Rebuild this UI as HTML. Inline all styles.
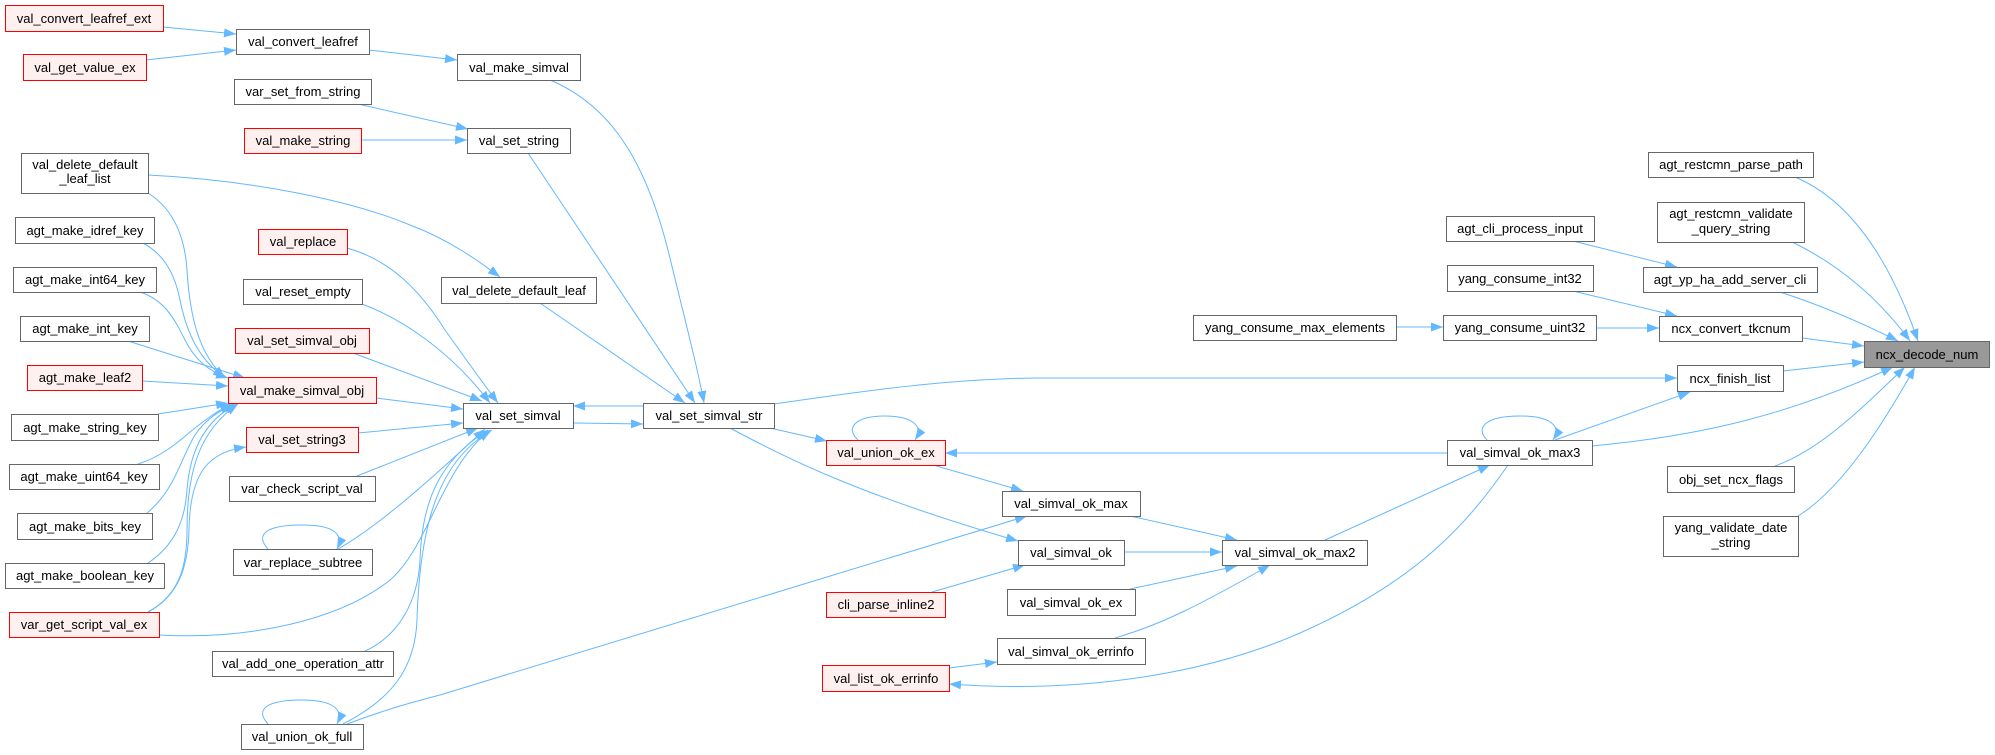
<!DOCTYPE html>
<html><head><meta charset="utf-8">
<style>
html,body{margin:0;padding:0;background:#fff;}
svg{display:block;}
text{font-family:"Liberation Sans",Arial,sans-serif;font-size:13px;fill:#000;}
.n{fill:#fff;stroke:#666;stroke-width:1;}
.r{fill:#fff0f0;stroke:#f00;stroke-width:1;}
.g{fill:#999;stroke:#666;stroke-width:1;}
.e{fill:none;stroke:#63b8ff;stroke-width:1;marker-end:url(#a);}
</style></head>
<body>
<svg width="1995" height="755" viewBox="0 0 1995 755" xmlns="http://www.w3.org/2000/svg">
<defs>
<marker id="a" viewBox="0 0 12 9" refX="12" refY="4.5" markerWidth="12" markerHeight="9" markerUnits="userSpaceOnUse" orient="auto">
<path d="M0,0 L12,4.5 L0,9 z" fill="#63b8ff"/>
</marker>
</defs>

<!-- edges -->
<path class="e" d="M163,27 L236,34"/>
<path class="e" d="M146,60 L236,50"/>
<path class="e" d="M369,50 L457,60"/>
<path class="e" d="M358,104 L468,129"/>
<path class="e" d="M361,140 L467,140"/>
<path class="e" d="M550,80 C610,105 645,160 668,250 C685,320 698,370 704,403"/>
<path class="e" d="M528,153 L695,403"/>
<path class="e" d="M540,303 L685,403"/>
<path class="e" d="M148,175 C250,180 350,200 410,225 C450,240 480,262 500,277"/>
<path class="e" d="M148,193 C175,210 185,240 187,270 C190,320 200,355 225,378"/>
<path class="e" d="M143,243 C165,255 175,275 180,300 C187,335 200,360 225,378"/>
<path class="e" d="M140,292 C165,300 175,320 185,340 C195,360 210,372 228,378"/>
<path class="e" d="M128,341 L245,378"/>
<path class="e" d="M142,381 L228,386"/>
<path class="e" d="M158,414 L228,403"/>
<path class="e" d="M138,464 C160,457 175,445 190,432 C205,420 218,410 232,404"/>
<path class="e" d="M147,513 C175,490 180,460 195,435 C205,420 220,410 235,404"/>
<path class="e" d="M148,563 C175,545 185,520 187,490 C190,450 205,420 237,404"/>
<path class="e" d="M148,612 C180,595 187,565 187,530 C187,470 200,430 238,404"/>
<path class="e" d="M148,612 C180,595 188,565 189,530 C190,470 210,452 246,447"/>
<path class="e" d="M159,635 C250,640 340,620 390,580 C430,545 440,470 490,430"/>
<path class="e" d="M347,248 C390,260 420,290 445,330 C470,365 488,390 498,403"/>
<path class="e" d="M362,304 C400,318 450,350 490,403"/>
<path class="e" d="M353,353 L482,401"/>
<path class="e" d="M376,398 L463,409"/>
<path class="e" d="M358,433 L463,423"/>
<path class="e" d="M357,476 L478,428"/>
<path class="e" d="M338,549 C380,525 430,480 485,429"/>
<path class="e" d="M268,549 C255,535 265,525 302,525 C330,525 345,532 337,549"/>
<path class="e" d="M365,651 C400,635 418,600 420,560 C422,500 440,460 488,430"/>
<path class="e" d="M343,724 C390,700 415,670 417,620 C420,520 440,460 492,430"/>
<path class="e" d="M268,724 C255,710 265,700 302,700 C330,700 345,708 337,724"/>
<path class="e" d="M347,724 C390,708 410,703 440,695 L1027,516"/>
<path class="e" d="M573,423 L643,424"/>
<path class="e" d="M643,406 L573,406"/>
<path class="e" d="M774,404 C850,393 950,378 1040,378 L1677,378"/>
<path class="e" d="M770,428 L827,441"/>
<path class="e" d="M730,428 C790,460 860,495 1018,541"/>
<path class="e" d="M858,440 C845,428 855,416 885,416 C910,416 925,425 915,440"/>
<path class="e" d="M933,465 L1023,491"/>
<path class="e" d="M1447,453 L945,453"/>
<path class="e" d="M1130,516 L1237,540"/>
<path class="e" d="M1124,552 L1222,552"/>
<path class="e" d="M932,592 L1025,565"/>
<path class="e" d="M1130,589 L1237,566"/>
<path class="e" d="M1115,638 C1160,625 1200,605 1270,565"/>
<path class="e" d="M949,668 L997,662"/>
<path class="e" d="M1508,465 C1470,520 1420,580 1300,633 C1220,668 1100,695 949,684"/>
<path class="e" d="M1325,540 L1490,465"/>
<path class="e" d="M1487,440 C1475,428 1485,416 1520,416 C1548,416 1563,425 1553,440"/>
<path class="e" d="M1555,440 L1690,392"/>
<path class="e" d="M1592,446 C1700,436 1790,415 1893,367"/>
<path class="e" d="M1775,466 C1820,450 1860,410 1905,367"/>
<path class="e" d="M1798,516 C1840,490 1880,430 1915,367"/>
<path class="e" d="M1795,177 C1850,200 1890,260 1918,341"/>
<path class="e" d="M1792,242 C1840,265 1880,300 1910,341"/>
<path class="e" d="M1780,292 C1820,305 1860,322 1898,341"/>
<path class="e" d="M1802,338 L1864,346"/>
<path class="e" d="M1783,371 L1864,362"/>
<path class="e" d="M1573,241 L1677,267"/>
<path class="e" d="M1573,291 L1677,316"/>
<path class="e" d="M1396,327 L1443,327"/>
<path class="e" d="M1596,328 L1659,328"/>

<!-- nodes -->
<rect class="r" x="5.5" y="5.5" width="158" height="26"/><text x="84" y="23" text-anchor="middle">val_convert_leafref_ext</text>
<rect class="n" x="236.5" y="29.5" width="133" height="25"/><text x="303" y="46" text-anchor="middle">val_convert_leafref</text>
<rect class="r" x="23.5" y="54.5" width="123" height="26"/><text x="85" y="72" text-anchor="middle">val_get_value_ex</text>
<rect class="n" x="457.5" y="54.5" width="123" height="26"/><text x="519" y="72" text-anchor="middle">val_make_simval</text>
<rect class="n" x="234.5" y="79.5" width="137" height="25"/><text x="303" y="96" text-anchor="middle">var_set_from_string</text>
<rect class="r" x="244.5" y="128.5" width="117" height="25"/><text x="303" y="145" text-anchor="middle">val_make_string</text>
<rect class="n" x="467.5" y="128.5" width="103" height="25"/><text x="519" y="145" text-anchor="middle">val_set_string</text>
<rect class="n" x="21.5" y="153.5" width="127" height="40"/><text x="85" y="169" text-anchor="middle">val_delete_default</text><text x="85" y="183" text-anchor="middle">_leaf_list</text>
<rect class="n" x="15.5" y="217.5" width="139" height="26"/><text x="85" y="235" text-anchor="middle">agt_make_idref_key</text>
<rect class="r" x="258.5" y="229.5" width="89" height="25"/><text x="303" y="246" text-anchor="middle">val_replace</text>
<rect class="n" x="13.5" y="267.5" width="143" height="25"/><text x="85" y="284" text-anchor="middle">agt_make_int64_key</text>
<rect class="n" x="441.5" y="277.5" width="155" height="26"/><text x="519" y="295" text-anchor="middle">val_delete_default_leaf</text>
<rect class="n" x="243.5" y="279.5" width="119" height="25"/><text x="303" y="296" text-anchor="middle">val_reset_empty</text>
<rect class="n" x="20.5" y="316.5" width="129" height="25"/><text x="85" y="333" text-anchor="middle">agt_make_int_key</text>
<rect class="r" x="235.5" y="328.5" width="134" height="25"/><text x="302" y="345" text-anchor="middle">val_set_simval_obj</text>
<rect class="r" x="27.5" y="365.5" width="115" height="25"/><text x="85" y="382" text-anchor="middle">agt_make_leaf2</text>
<rect class="r" x="228.5" y="377.5" width="148" height="26"/><text x="302" y="395" text-anchor="middle">val_make_simval_obj</text>
<rect class="n" x="463.5" y="403.5" width="110" height="25"/><text x="518" y="420" text-anchor="middle">val_set_simval</text>
<rect class="n" x="643.5" y="403.5" width="131" height="25"/><text x="709" y="420" text-anchor="middle">val_set_simval_str</text>
<rect class="n" x="11.5" y="414.5" width="147" height="26"/><text x="85" y="432" text-anchor="middle">agt_make_string_key</text>
<rect class="r" x="246.5" y="427.5" width="112" height="25"/><text x="302" y="444" text-anchor="middle">val_set_string3</text>
<rect class="r" x="826.5" y="440.5" width="119" height="25"/><text x="886" y="457" text-anchor="middle">val_union_ok_ex</text>
<rect class="n" x="9.5" y="464.5" width="150" height="25"/><text x="84" y="481" text-anchor="middle">agt_make_uint64_key</text>
<rect class="n" x="229.5" y="476.5" width="146" height="25"/><text x="302" y="493" text-anchor="middle">var_check_script_val</text>
<rect class="n" x="1002.5" y="491.5" width="138" height="25"/><text x="1071" y="508" text-anchor="middle">val_simval_ok_max</text>
<rect class="n" x="17.5" y="513.5" width="135" height="26"/><text x="85" y="531" text-anchor="middle">agt_make_bits_key</text>
<rect class="n" x="1018.5" y="540.5" width="106" height="25"/><text x="1071" y="557" text-anchor="middle">val_simval_ok</text>
<rect class="n" x="1222.5" y="540.5" width="145" height="25"/><text x="1295" y="557" text-anchor="middle">val_simval_ok_max2</text>
<rect class="n" x="233.5" y="549.5" width="139" height="26"/><text x="303" y="567" text-anchor="middle">var_replace_subtree</text>
<rect class="n" x="5.5" y="563.5" width="159" height="25"/><text x="85" y="580" text-anchor="middle">agt_make_boolean_key</text>
<rect class="n" x="1007.5" y="589.5" width="128" height="26"/><text x="1071" y="607" text-anchor="middle">val_simval_ok_ex</text>
<rect class="r" x="826.5" y="592.5" width="119" height="25"/><text x="886" y="609" text-anchor="middle">cli_parse_inline2</text>
<rect class="r" x="9.5" y="612.5" width="150" height="25"/><text x="84" y="629" text-anchor="middle">var_get_script_val_ex</text>
<rect class="n" x="997.5" y="638.5" width="148" height="26"/><text x="1071" y="656" text-anchor="middle">val_simval_ok_errinfo</text>
<rect class="n" x="212.5" y="651.5" width="181" height="25"/><text x="303" y="668" text-anchor="middle">val_add_one_operation_attr</text>
<rect class="r" x="822.5" y="665.5" width="127" height="26"/><text x="886" y="683" text-anchor="middle">val_list_ok_errinfo</text>
<rect class="n" x="241.5" y="724.5" width="122" height="25"/><text x="302" y="741" text-anchor="middle">val_union_ok_full</text>
<rect class="n" x="1447.5" y="440.5" width="145" height="25"/><text x="1520" y="457" text-anchor="middle">val_simval_ok_max3</text>
<rect class="n" x="1648.5" y="152.5" width="165" height="25"/><text x="1731" y="169" text-anchor="middle">agt_restcmn_parse_path</text>
<rect class="n" x="1657.5" y="202.5" width="147" height="40"/><text x="1731" y="218" text-anchor="middle">agt_restcmn_validate</text><text x="1731" y="233" text-anchor="middle">_query_string</text>
<rect class="n" x="1446.5" y="216.5" width="148" height="25"/><text x="1520" y="233" text-anchor="middle">agt_cli_process_input</text>
<rect class="n" x="1643.5" y="267.5" width="174" height="25"/><text x="1730" y="284" text-anchor="middle">agt_yp_ha_add_server_cli</text>
<rect class="n" x="1447.5" y="265.5" width="146" height="26"/><text x="1520" y="283" text-anchor="middle">yang_consume_int32</text>
<rect class="n" x="1659.5" y="316.5" width="143" height="25"/><text x="1731" y="333" text-anchor="middle">ncx_convert_tkcnum</text>
<rect class="n" x="1193.5" y="315.5" width="203" height="25"/><text x="1295" y="332" text-anchor="middle">yang_consume_max_elements</text>
<rect class="n" x="1443.5" y="315.5" width="153" height="25"/><text x="1520" y="332" text-anchor="middle">yang_consume_uint32</text>
<rect class="g" x="1864.5" y="341.5" width="125" height="26"/><text x="1927" y="359" text-anchor="middle">ncx_decode_num</text>
<rect class="n" x="1677.5" y="365.5" width="106" height="26"/><text x="1730" y="383" text-anchor="middle">ncx_finish_list</text>
<rect class="n" x="1667.5" y="466.5" width="127" height="26"/><text x="1731" y="484" text-anchor="middle">obj_set_ncx_flags</text>
<rect class="n" x="1663.5" y="516.5" width="135" height="40"/><text x="1731" y="532" text-anchor="middle">yang_validate_date</text><text x="1731" y="547" text-anchor="middle">_string</text>
</svg>
</body></html>
